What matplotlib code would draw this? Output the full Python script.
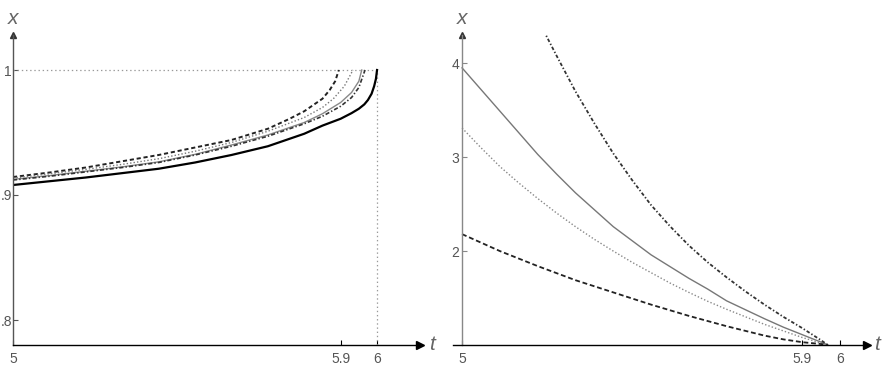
import matplotlib
matplotlib.use('Agg')
import matplotlib.pyplot as plt

plt.rcParams['font.family'] = ['Liberation Sans', 'DejaVu Sans']
plt.rcParams['lines.scale_dashes'] = False

# left panel: x(t), all curves end at x = 1
t_black = [5.0, 5.1, 5.2, 5.3, 5.4, 5.5, 5.6, 5.7, 5.8, 5.85, 5.9, 5.93, 5.95,
           5.965, 5.975, 5.985, 5.992, 5.997, 6.0]
x_black = [0.908, 0.911, 0.914, 0.9175, 0.921, 0.926, 0.932, 0.939, 0.949, 0.9555,
           0.961, 0.9655, 0.969, 0.9725, 0.976, 0.981, 0.987, 0.993, 1.0]

t_dash = [5.0, 5.1, 5.2, 5.3, 5.4, 5.5, 5.6, 5.7, 5.76, 5.8, 5.85, 5.87, 5.885, 5.895]
x_dash = [0.9144, 0.918, 0.922, 0.927, 0.932, 0.938, 0.944, 0.953, 0.961, 0.967,
          0.977, 0.984, 0.991, 1.0]

t_dot = [5.0, 5.1, 5.2, 5.3, 5.4, 5.5, 5.6, 5.7, 5.8, 5.85, 5.88, 5.91, 5.934]
x_dot = [0.9135, 0.917, 0.9205, 0.9245, 0.929, 0.935, 0.942, 0.951, 0.962, 0.970,
         0.977, 0.987, 1.0]

t_gray = [5.0, 5.1, 5.2, 5.3, 5.4, 5.5, 5.6, 5.7, 5.8, 5.85, 5.9, 5.93, 5.95, 5.958]
x_gray = [0.9125, 0.9155, 0.919, 0.9225, 0.9265, 0.9325, 0.940, 0.948, 0.958, 0.965,
          0.974, 0.982, 0.991, 1.0]

t_dd = [5.0, 5.1, 5.2, 5.3, 5.4, 5.5, 5.6, 5.7, 5.8, 5.85, 5.9, 5.93, 5.95, 5.967]
x_dd = [0.912, 0.915, 0.9185, 0.922, 0.926, 0.932, 0.939, 0.947, 0.957, 0.963,
        0.971, 0.978, 0.986, 1.0]

# right panel
r_t = [5.0, 5.05, 5.1, 5.15, 5.2, 5.25, 5.3, 5.35, 5.4, 5.45, 5.5,
       5.55, 5.6, 5.65, 5.7, 5.75, 5.8, 5.85, 5.9, 5.95, 5.968]
r_solid = [3.95, 3.72, 3.49, 3.26, 3.03, 2.82, 2.62, 2.44, 2.26, 2.11, 1.96,
           1.835, 1.71, 1.595, 1.47, 1.375, 1.28, 1.19, 1.11, 1.03, 1.0]
r_dot = [3.31, 3.10, 2.90, 2.725, 2.56, 2.405, 2.26, 2.125, 2.00, 1.88, 1.77,
         1.66, 1.56, 1.465, 1.38, 1.30, 1.22, 1.15, 1.08, 1.02, 1.0]
r_dash = [2.18, 2.09, 2.00, 1.92, 1.84, 1.765, 1.69, 1.625, 1.56, 1.495, 1.43,
          1.37, 1.31, 1.255, 1.20, 1.15, 1.10, 1.06, 1.03, 1.01, 1.0]
r_t_dd = [5.205, 5.25, 5.3, 5.35, 5.4, 5.45, 5.5, 5.55, 5.6, 5.65, 5.7,
          5.75, 5.8, 5.85, 5.9, 5.95, 5.968]
r_dd = [4.43, 4.08, 3.70, 3.36, 3.04, 2.755, 2.49, 2.265, 2.06, 1.88, 1.72,
        1.57, 1.43, 1.30, 1.18, 1.05, 1.0]

left_xticks = [5, 5.9, 6]
left_yticks = [0.8, 0.9, 1]
left_ylabels = ['.8', '.9', '1']
right_xticks = [5, 5.9, 6]
right_yticks = [2, 3, 4]

W, H = 883, 378
fig = plt.figure(figsize=(W / 100, H / 100), dpi=100)

def px_box(x0, x1, ytop, ybot):
    return [x0 / W, 1 - ybot / H, (x1 - x0) / W, (ybot - ytop) / H]

tick_col = '#555555'

def style_axes(ax, xorig, yorig, ycol, ypad):
    for s in ['top', 'right']:
        ax.spines[s].set_visible(False)
    ax.spines['left'].set_position(('data', xorig))
    ax.spines['left'].set_color(ycol)
    ax.spines['left'].set_linewidth(1.0)
    ax.spines['bottom'].set_color('black')
    ax.spines['bottom'].set_linewidth(1.0)
    ax.tick_params(axis='both', direction='in', length=3.5, width=0.8,
                   colors=tick_col, labelsize=10)
    ax.tick_params(axis='x', pad=5, color='black')
    ax.tick_params(axis='y', pad=ypad, color=ycol)
    ax.plot(1, yorig, marker='>', ms=6, color='black', clip_on=False,
            transform=ax.get_yaxis_transform())
    ax.plot(xorig, 1, marker='^', ms=5, color='#333333', clip_on=False,
            transform=ax.get_xaxis_transform())

# ---- left
ax1 = fig.add_axes(px_box(13, 420, 35, 345))
ax1.set_xlim(5, 6.118)
ax1.set_ylim(0.78, 1.028)
style_axes(ax1, 5, 0.78, '#555555', 0.8)
ax1.plot([5, 6], [1, 1], color='#999999', lw=0.9, ls=(0, (1, 2)))
ax1.plot([6, 6], [0.78, 1], color='#999999', lw=0.9, ls=(0, (1, 2)))
ax1.plot(t_dash, x_dash, color='#222222', lw=1.4, ls=(0, (3, 2)))
ax1.plot(t_dot, x_dot, color='#777777', lw=1.0, ls=(0, (1, 1.5)))
ax1.plot(t_gray, x_gray, color='#888888', lw=1.0)
ax1.plot(t_dd, x_dd, color='#333333', lw=1.2, ls=(0, (3, 1.5, 1, 1.5)))
ax1.plot(t_black, x_black, color='black', lw=1.6)
ax1.set_xticks(left_xticks)
ax1.set_xticklabels(['5', '5.9', '6'])
ax1.set_yticks(left_yticks)
ax1.set_yticklabels(left_ylabels)
fig.text(13 / W, 1 - 18 / H, 'x', ha='center', va='center', fontsize=15,
         style='italic', color='#666666')
fig.text(432 / W, 1 - 344 / H, 't', ha='center', va='center', fontsize=15,
         style='italic', color='#666666')

# ---- right
ax2 = fig.add_axes(px_box(453, 867, 35, 345))
ax2.set_xlim(4.976, 6.0714)
ax2.set_ylim(1.0, 4.3)
style_axes(ax2, 5, 1.0, '#888888', 2)
ax2.plot(r_t, r_solid, color='#777777', lw=1.0)
ax2.plot(r_t, r_dot, color='#888888', lw=1.0, ls=(0, (1, 1.5)))
ax2.plot(r_t, r_dash, color='#222222', lw=1.3, ls=(0, (3.5, 2)))
ax2.plot(r_t_dd, r_dd, color='#333333', lw=1.3, ls=(0, (2.5, 1.5, 1, 1.5)))
ax2.set_xticks(right_xticks)
ax2.set_xticklabels(['5', '5.9', '6'])
ax2.set_yticks(right_yticks)
ax2.set_yticklabels(['2', '3', '4'])
fig.text(462 / W, 1 - 18 / H, 'x', ha='center', va='center', fontsize=15,
         style='italic', color='#666666')
fig.text(877 / W, 1 - 344 / H, 't', ha='center', va='center', fontsize=15,
         style='italic', color='#666666')

fig.savefig('out.png', dpi=100)
